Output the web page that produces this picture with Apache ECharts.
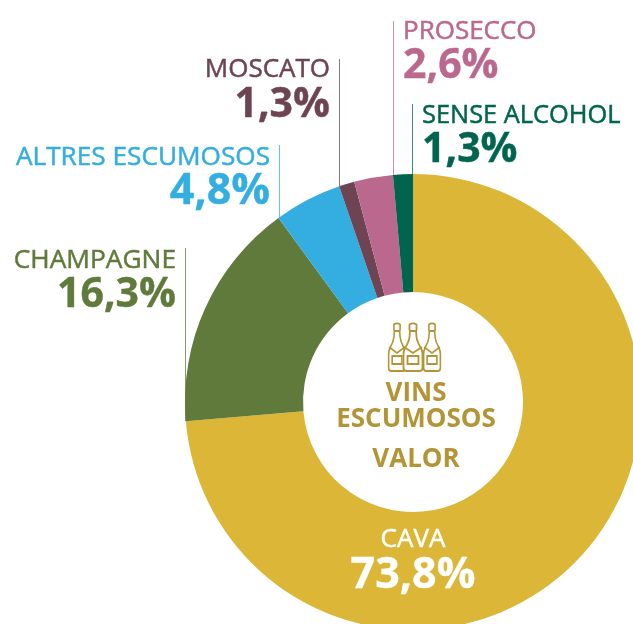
<!DOCTYPE html>
<html><head><meta charset="utf-8">
<style>html,body{margin:0;padding:0;background:#fff}#c{width:633px;height:624px}</style>
<script src="https://cdn.jsdelivr.net/npm/echarts@6/dist/echarts.min.js"></script>
</head><body><div id="c"></div>
<script>
const categories = ['CAVA','CHAMPAGNE','ALTRES ESCUMOSOS','MOSCATO','PROSECCO','SENSE ALCOHOL'];
const percentLabels = ['73,8%','16,3%','4,8%','1,3%','2,6%','1,3%'];
const sliceValues = [73.65,16.3,4.8,1.1,2.75,1.4];
const colors = ['#dcb637','#5f7a3a','#34aee0','#6e4453','#bb688e','#00644f'];
const centerLines = ['VINS','ESCUMOSOS','VALOR'];

const F = '"Open Sans"';
const CX = 413, CY = 402, R = 228, R0 = 110;
const gold = '#b39436';
// label anchor: x, align, y of name, y of percent; leader line: x, y top, y bottom
const labelLayout = [
  {x:413,align:'center',ny:540,py:576,color:'#fff',ns:26,ps:43},
  {x:176,align:'right',ny:261,py:295,ns:26.3,ps:41,line:[185.5,248,421]},
  {x:270,align:'right',ny:158,py:192,ns:26.2,ps:43,line:[279.5,145,218]},
  {x:330,align:'right',ny:70,py:105,ns:26,ps:41,line:[339.5,59,186]},
  {x:403,align:'left',ny:32,py:66,ns:26,ps:41,line:[393.5,21,175]},
  {x:422,align:'left',ny:116,py:150,ns:25.4,ps:41,line:[412.5,104,174]}
];
const bottlePath = 'M-3.5 1.5 Q0 -0.8 3.5 1.5 L3.5 7 L3 8 L3.5 14 Q4 19 8 25 Q9.5 28 9.5 31 L9.5 45 Q9.5 48 6.5 48 L-6.5 48 Q-9.5 48 -9.5 45 L-9.5 31 Q-9.5 28 -8 25 Q-4 19 -3.5 14 L-3 8 L-3.5 7 Z M-3 8 L3 8 M-9 24 L0 30 L9 24 M-5.5 33 L5.5 33 L5.5 41 L-5.5 41 Z';
echarts.graphic.registerShape('bottle', echarts.graphic.extendPath(bottlePath, {}));
const graphics = [];
categories.forEach((name,i)=>{
  const l = labelLayout[i], col = l.color || colors[i];
  graphics.push({type:'text',z:20,style:{text:name,x:l.x,y:l.ny,align:l.align,verticalAlign:'middle',fill:col,stroke:col,lineWidth:0.5,font:`500 ${l.ns}px ${F}`}});
  graphics.push({type:'text',z:20,style:{text:percentLabels[i],x:l.x,y:l.py,align:l.align,verticalAlign:'middle',fill:col,stroke:col,lineWidth:0.4,font:`700 ${l.ps}px ${F}`}});
  if(l.line) graphics.push({type:'line',z:1,shape:{x1:l.line[0],y1:l.line[1],x2:l.line[0],y2:l.line[2]},style:{stroke:colors[i],lineWidth:1,opacity:.75}});
});
[[397,.88],[432,.88],[413,1]].forEach(([x,s])=>{
  graphics.push({type:'bottle',z:20,x:x,y:323,scaleX:s,scaleY:1,style:{fill:'#fff',stroke:gold,lineWidth:1.8}});
});
[[centerLines[0],394],[centerLines[1],420],[centerLines[2],460]].forEach(([t,y])=>{
  graphics.push({type:'text',z:20,style:{text:t,x:CX+3,y:y,align:'center',verticalAlign:'middle',fill:gold,font:`700 26px ${F}`}});
});
const chart = echarts.init(document.getElementById('c'),null,{renderer:'canvas'});
chart.setOption({
  animation:false,
  backgroundColor:'#fff',
  series:[{type:'pie',center:[CX,CY],radius:[R0,R],startAngle:90,clockwise:true,label:{show:false},labelLine:{show:false},silent:true,
    data:categories.map((n,i)=>({name:n,value:sliceValues[i],itemStyle:{color:colors[i]}}))}],
  graphic:{elements:graphics}
});
</script></body></html>
